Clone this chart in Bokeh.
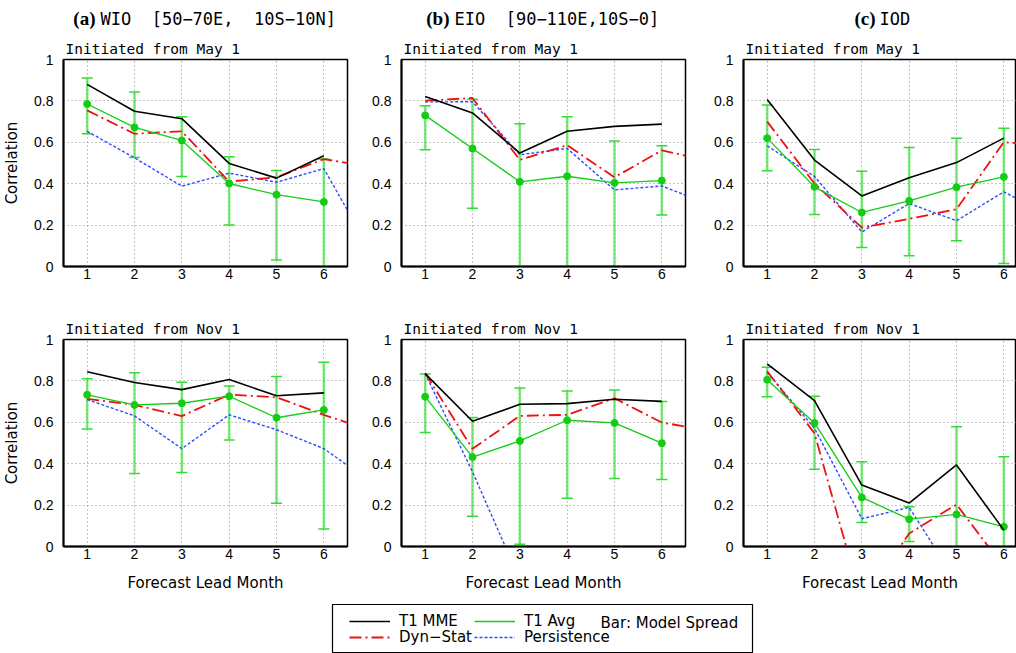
import numpy as np
from bokeh.plotting import figure
from bokeh.layouts import column, row
from bokeh.models import (Range1d, FixedTicker, NumeralTickFormatter, Label,
                          Legend, LegendItem, Title)
from bokeh.embed import file_html
from bokeh.resources import INLINE

NaN = float("nan")

# ---------------- data ----------------
lead = [1, 2, 3, 4, 5, 6]
lead_ext = [1, 2, 3, 4, 5, 6, 7]
y_ticks = [0, 0.2, 0.4, 0.6, 0.8, 1.0]

# (a) WIO, May 1
wio_may_mme = [0.880, 0.750, 0.714, 0.498, 0.427, 0.535]
wio_may_avg = [0.785, 0.672, 0.609, 0.401, 0.347, 0.312]
wio_may_hi = [0.911, 0.843, 0.724, 0.530, 0.464, 0.519]
wio_may_lo = [0.641, 0.527, 0.435, 0.200, 0.031, -0.05]
wio_may_dyn = [0.754, 0.641, 0.653, 0.410, 0.431, 0.519, 0.48]
wio_may_per = [0.653, 0.525, 0.388, 0.451, 0.407, 0.473, 0.07]

# (b) EIO, May 1
eio_may_mme = [0.821, 0.742, 0.548, 0.653, 0.677, 0.688]
eio_may_avg = [0.730, 0.570, 0.409, 0.436, 0.404, 0.415]
eio_may_hi = [0.777, 0.808, 0.690, 0.724, 0.606, 0.583]
eio_may_lo = [0.564, 0.281, -0.05, -0.05, -0.05, 0.249]
eio_may_dyn = [0.801, 0.814, 0.515, 0.586, 0.431, 0.561, 0.51]
eio_may_per = [0.795, 0.796, 0.540, 0.570, 0.370, 0.389, 0.30]

# (c) IOD, May 1
iod_may_mme = [0.807, 0.514, 0.341, 0.429, 0.502, 0.620]
iod_may_avg = [0.620, 0.385, 0.261, 0.317, 0.383, 0.433]
iod_may_hi = [0.780, 0.565, 0.460, 0.575, 0.620, 0.668]
iod_may_lo = [0.462, 0.251, 0.092, 0.052, 0.125, 0.015]
iod_may_dyn = [0.700, 0.401, 0.188, 0.230, 0.277, 0.601, 0.58]
iod_may_per = [0.583, 0.435, 0.167, 0.304, 0.221, 0.361, 0.24]

# (a) WIO, Nov 1
wio_nov_mme = [0.844, 0.792, 0.758, 0.807, 0.728, 0.742]
wio_nov_avg = [0.733, 0.684, 0.692, 0.726, 0.622, 0.660]
wio_nov_hi = [0.810, 0.839, 0.794, 0.775, 0.821, 0.890]
wio_nov_lo = [0.568, 0.353, 0.357, 0.514, 0.209, 0.085]
wio_nov_dyn = [0.713, 0.684, 0.630, 0.734, 0.721, 0.636, 0.56]
wio_nov_per = [0.710, 0.631, 0.473, 0.636, 0.564, 0.473, 0.31]

# (b) EIO, Nov 1
eio_nov_mme = [0.835, 0.605, 0.687, 0.690, 0.711, 0.701]
eio_nov_avg = [0.724, 0.432, 0.510, 0.610, 0.597, 0.499]
eio_nov_hi = [0.833, 0.623, 0.766, 0.751, 0.756, 0.701]
eio_nov_lo = [0.551, 0.146, 0.011, 0.233, 0.329, 0.324]
eio_nov_dyn = [0.838, 0.472, 0.631, 0.636, 0.716, 0.599, 0.56]
eio_nov_per = [0.835, 0.361, -0.16, NaN, NaN, NaN, NaN]

# (c) IOD, Nov 1
iod_nov_mme = [0.882, 0.705, 0.297, 0.210, 0.394, 0.079]
iod_nov_avg = [0.806, 0.597, 0.237, 0.132, 0.155, 0.095]
iod_nov_hi = [0.866, 0.726, 0.410, 0.192, 0.579, 0.434]
iod_nov_lo = [0.723, 0.373, 0.116, 0.024, -0.05, -0.05]
iod_nov_dyn = [0.847, 0.547, -0.27, 0.063, 0.203, -0.10, NaN]
iod_nov_per = [0.842, 0.571, 0.134, 0.189, -0.17, NaN, NaN]

NB = "\u00a0"
panel_letters = ["(a)", "(b)", "(c)"]
panel_names = ["WIO" + NB + NB + "[50\u221270E," + NB + NB + "10S\u221210N]",
               "EIO" + NB + NB + "[90\u2212110E,10S\u22120]",
               "IOD"]
seasons = ["Initiated from May 1", "Initiated from Nov 1"]
series_names = ["T1 MME", "T1 Avg", "Dyn\u2212Stat", "Persistence"]
bar_note = "Bar: Model Spread"
x_label = "Forecast Lead Month"
y_label = "Correlation"

panels = [
    [(wio_may_mme, wio_may_avg, wio_may_hi, wio_may_lo, wio_may_dyn, wio_may_per),
     (eio_may_mme, eio_may_avg, eio_may_hi, eio_may_lo, eio_may_dyn, eio_may_per),
     (iod_may_mme, iod_may_avg, iod_may_hi, iod_may_lo, iod_may_dyn, iod_may_per)],
    [(wio_nov_mme, wio_nov_avg, wio_nov_hi, wio_nov_lo, wio_nov_dyn, wio_nov_per),
     (eio_nov_mme, eio_nov_avg, eio_nov_hi, eio_nov_lo, eio_nov_dyn, eio_nov_per),
     (iod_nov_mme, iod_nov_avg, iod_nov_hi, iod_nov_lo, iod_nov_dyn, iod_nov_per)],
]

# ---------------- styles ----------------
BLACK = "#000000"
GREEN = "#14cc14"
GREEN_BAR = "#33dd33"
RED = "#ee1111"
BLUE = "#2c4cff"
TICK_FONT = "Liberation Sans"
MONO = "DejaVu Sans Mono"
SANS = "DejaVu Sans"

FRAME_H = 207
HEADER_H = 35
col_left = [63, 50, 54]
col_right = [4, 4, 0]
col_fw = [284, 284, 273]
col_xend = [6.5, 6.5, 0.5 + 273 * 6 / 284]
# pixel positions of the column headings in the header strip
title_px = [(95, 100), (449, 454), (875, 879)]


def make_panel(r, c):
    mme, avg, hi, lo, dyn, per = panels[r][c]
    top = 59 - HEADER_H if r == 0 else 43
    bottom = 30 if r == 0 else 54
    p = figure(frame_width=col_fw[c], frame_height=FRAME_H,
               x_range=Range1d(0.5, col_xend[c]), y_range=Range1d(0, 1),
               min_border_left=col_left[c], min_border_right=col_right[c],
               min_border_top=top, min_border_bottom=bottom,
               output_backend="svg", toolbar_location=None)
    p.outline_line_color = BLACK
    p.outline_line_width = 1.5
    p.outline_line_alpha = 1.0

    p.add_layout(Title(text=seasons[r], align="left", offset=2, standoff=5,
                       text_font=MONO, text_font_size="14.5px",
                       text_font_style="normal", text_color=BLACK), "above")

    # axes
    p.xaxis.ticker = FixedTicker(ticks=lead)
    p.yaxis.ticker = FixedTicker(ticks=y_ticks)
    p.yaxis.formatter = NumeralTickFormatter(format="0.[0]")
    for ax in (p.xaxis[0], p.yaxis[0]):
        ax.axis_line_width = 2
        ax.axis_line_color = BLACK
        ax.major_tick_out = 0
        ax.major_tick_in = 0
        ax.minor_tick_out = 0
        ax.minor_tick_in = 0
        ax.major_label_text_font = TICK_FONT
        ax.major_label_text_font_size = "14px"
        ax.major_label_text_color = BLACK
        ax.axis_label_text_font = SANS
        ax.axis_label_text_font_size = "15px"
        ax.axis_label_text_font_style = "normal"
        ax.axis_label_text_color = BLACK
    p.xaxis.major_label_standoff = 2
    p.yaxis.major_label_standoff = 10
    if c == 0:
        p.yaxis.axis_label = y_label
        p.yaxis.axis_label_standoff = 10
    if r == 1:
        p.xaxis.axis_label = x_label
        p.xaxis.axis_label_standoff = 12

    # grid
    p.xgrid.ticker = FixedTicker(ticks=lead)
    p.ygrid.ticker = FixedTicker(ticks=y_ticks)
    for g in (p.xgrid[0], p.ygrid[0]):
        g.grid_line_color = "#8a8a8a"
        g.grid_line_dash = "1 3"
        g.grid_line_width = 1

    # model spread bars
    p.segment(x0=lead, y0=lo, x1=lead, y1=hi, line_color=GREEN_BAR,
              line_width=2.5, line_alpha=0.65)
    p.scatter(lead, hi, marker="dash", size=11, line_color=GREEN_BAR, line_width=1.5)
    p.scatter(lead, lo, marker="dash", size=11, line_color=GREEN_BAR, line_width=1.5)

    # series
    p.line(lead_ext, per, line_color=BLUE, line_width=1.4, line_dash="3 2")
    p.line(lead_ext, dyn, line_color=RED, line_width=1.8, line_dash="12 4 2 4")
    p.line(lead, avg, line_color=GREEN, line_width=1.3)
    p.scatter(lead, avg, size=7, fill_color=GREEN, line_color=GREEN)
    p.line(lead, mme, line_color=BLACK, line_width=1.6)
    return p


# ---------------- header strip with the column headings ----------------
hdr = figure(frame_width=1016, frame_height=HEADER_H, min_border=0,
             x_range=Range1d(0, 1016), y_range=Range1d(0, HEADER_H),
             x_axis_type=None, y_axis_type=None,
             output_backend="svg", toolbar_location=None)
hdr.grid.visible = False
hdr.outline_line_color = None
for c in range(3):
    xl, xt = title_px[c]
    hdr.add_layout(Label(x=xl, y=HEADER_H - 18, text=panel_letters[c],
                         text_font="Liberation Serif", text_font_style="bold",
                         text_font_size="19px", text_baseline="middle",
                         text_align="right", text_color=BLACK))
    hdr.add_layout(Label(x=xt, y=HEADER_H - 18, text=panel_names[c], text_font=MONO,
                         text_font_size="17px", text_baseline="middle",
                         text_align="left", text_color=BLACK))

rows = [row([make_panel(r, c) for c in range(3)]) for r in range(2)]

# ---------------- legend box ----------------
lf = figure(frame_width=420, frame_height=49, min_border_left=332,
            min_border_right=264, min_border_top=4, min_border_bottom=0,
            x_range=Range1d(0, 420), y_range=Range1d(0, 49),
            x_axis_type=None, y_axis_type=None,
            output_backend="svg", toolbar_location=None)
lf.grid.visible = False
lf.outline_line_color = BLACK
lf.outline_line_width = 1.2

r_mme = lf.line([NaN], [NaN], line_color=BLACK, line_width=1.6)
r_avg = lf.line([NaN], [NaN], line_color=GREEN, line_width=1.6)
r_dyn = lf.line([NaN], [NaN], line_color=RED, line_width=1.8, line_dash="12 4 2 4")
r_per = lf.line([NaN], [NaN], line_color=BLUE, line_width=1.4, line_dash="3 2")
leg_specs = [(series_names[0], r_mme, (17, 23)), (series_names[1], r_avg, (142, 23)),
             (series_names[2], r_dyn, (17, 7)), (series_names[3], r_per, (142, 7))]
for name, rend, loc in leg_specs:
    lg = Legend(items=[LegendItem(label=name, renderers=[rend])], location=loc,
                orientation="horizontal", glyph_width=41, glyph_height=16,
                label_height=16, label_standoff=9, padding=0, margin=0,
                spacing=0, border_line_color=None, background_fill_alpha=0,
                label_text_font=SANS, label_text_font_size="15px",
                label_text_color=BLACK)
    lf.add_layout(lg, "center")
lf.add_layout(Label(x=268, y=31, text=bar_note, text_font=SANS,
                    text_font_size="15px", text_baseline="middle",
                    text_align="left", text_color=BLACK))

layout = column(row(hdr), rows[0], rows[1], row(lf))
open("out.html", "w").write(file_html(layout, INLINE))
